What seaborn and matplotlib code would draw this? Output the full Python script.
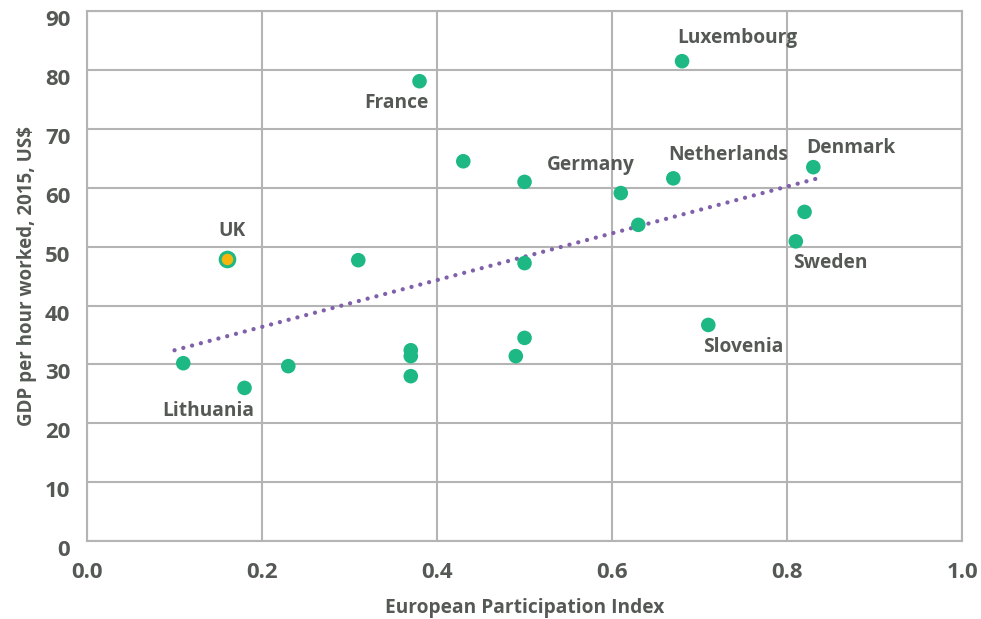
import numpy as np
import pandas as pd
import matplotlib.pyplot as plt
import matplotlib.transforms as mtransforms
import seaborn as sns

# data
country = ["UK", "Lithuania", "", "", "", "", "", "", "France", "", "Germany", "", "",
           "", "", "", "Netherlands", "Luxembourg", "Slovenia", "Sweden", "", "Denmark"]
epi = [0.16, 0.11, 0.18, 0.23, 0.31, 0.37, 0.37, 0.37, 0.38, 0.43, 0.50, 0.50, 0.50,
       0.49, 0.61, 0.63, 0.67, 0.68, 0.71, 0.81, 0.82, 0.83]
gdp = [47.9, 30.2, 26.0, 29.7, 47.7, 32.4, 31.4, 28.0, 78.1, 64.5, 61.0, 47.2, 34.5,
       31.4, 59.1, 53.7, 61.6, 81.5, 36.7, 50.9, 55.9, 63.5]
# trend line as drawn in the reference (start/end of the dotted fit)
trend_x = [0.10, 0.835]
trend_y = [32.4, 61.6]
xticks = [0.0, 0.2, 0.4, 0.6, 0.8, 1.0]
yticks = [0, 10, 20, 30, 40, 50, 60, 70, 80, 90]

df = pd.DataFrame({"country": country, "epi": epi, "gdp": gdp})

sns.set_style("white")
plt.rcParams['font.family'] = ['Open Sans', 'DejaVu Sans']

GREEN = '#1db884'
ORANGE = '#f6b40e'
PURPLE = '#8060aa'
GRID = '#b4b4b4'
TXT = '#555955'

fig = plt.figure(figsize=(9.81, 6.19), dpi=100)
ax = fig.add_axes([0.0887, 0.126, 0.892, 0.856])

sns.lineplot(x=trend_x, y=trend_y, color=PURPLE, ls=(0, (0.01, 2.1)), lw=3.1,
             dash_capstyle='round', ax=ax, zorder=3)

others = df[df.country != "UK"]
uk = df[df.country == "UK"]
sns.scatterplot(data=others, x="epi", y="gdp", color=GREEN, s=110, edgecolor='none',
                ax=ax, zorder=4)
sns.scatterplot(data=uk, x="epi", y="gdp", color=ORANGE, s=110, edgecolor=GREEN,
                linewidth=2.2, ax=ax, zorder=5)

# country labels: (offset x, offset y, ha)
lab = {"Luxembourg": (-0.006, 3.9, 'left'), "France": (0.01, -3.7, 'right'),
       "Germany": (0.025, 2.8, 'left'), "Netherlands": (-0.006, 3.9, 'left'),
       "Denmark": (-0.008, 3.2, 'left'), "UK": (0.006, 4.7, 'center'),
       "Sweden": (-0.003, -3.7, 'left'), "Slovenia": (-0.006, -3.8, 'left'),
       "Lithuania": (0.028, -8.1, 'center')}
for _, r in df[df.country != ""].iterrows():
    dx, dy, ha = lab[r.country]
    ax.text(r.epi + dx, r.gdp + dy, r.country, ha=ha, va='center', fontsize=13.8,
            fontweight='bold', color=TXT)

ax.set_xlim(0, 1.0)
ax.set_ylim(0, 90)
ax.set_xticks(xticks)
ax.set_yticks(yticks)
ax.set_xticklabels(['%.1f' % v for v in xticks])
ax.set_yticklabels([str(v) for v in yticks])
ax.grid(True, color=GRID, lw=1.5)
ax.set_axisbelow(True)
for spine in ax.spines.values():
    spine.set_color(GRID)
    spine.set_linewidth(1.5)
ax.tick_params(axis='both', length=0, labelsize=16, labelcolor=TXT)
ax.tick_params(axis='x', pad=15)
ax.tick_params(axis='y', pad=12)
for t in ax.get_yticklabels():
    t.set_fontweight('bold')
    t.set_transform(t.get_transform() + mtransforms.ScaledTranslation(0, -7 / 100, fig.dpi_scale_trans))
for t in ax.get_xticklabels():
    t.set_fontweight('bold')

ax.set_xlabel('European Participation Index', fontsize=13.8, fontweight='bold', color=TXT,
              labelpad=11)
ax.set_ylabel('GDP per hour worked, 2015, US$', fontsize=13.5, fontweight='bold', color=TXT,
              labelpad=6)

fig.savefig('out.png', dpi=100)
